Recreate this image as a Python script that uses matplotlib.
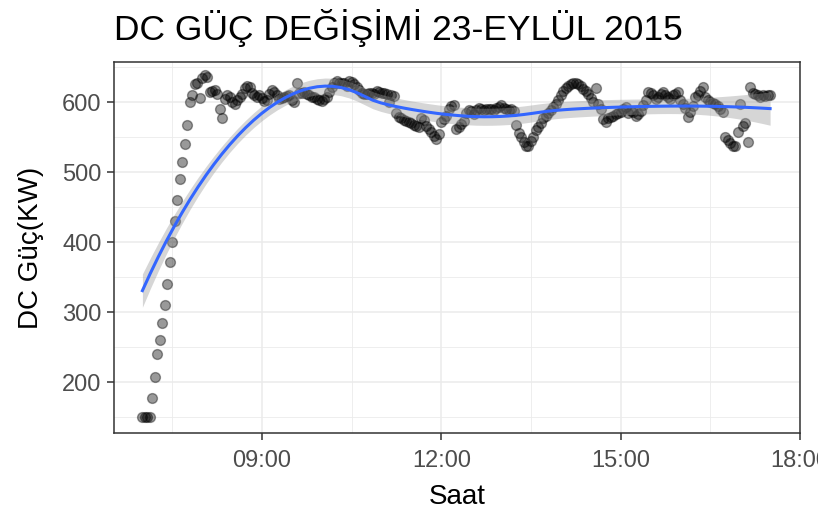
import numpy as np
import pandas as pd
import matplotlib
matplotlib.use("Agg")
import matplotlib.pyplot as plt
import matplotlib.dates as mdates

plt.rcParams["font.family"] = ["Liberation Sans", "DejaVu Sans"]

# 23 Eylül 2015, 07:00 - 17:30 arasi olcumler (2.5 dk aralik)
saat = pd.date_range("2015-09-23 07:00", "2015-09-23 17:30", freq="150s")

dc_guc = [
    150, 150, 150, 150, 178, 207, 240, 260, 285, 310,
    340, 372, 400, 430, 460, 490, 515, 540, 568, 600,
    610, 626, 628, 606, 635, 639, 636, 615, 616, 618,
    612, 591, 578, 605, 610, 607, 600, 598, 603, 608,
    612, 620, 623, 622, 613, 610, 608, 610, 606, 602,
    604, 612, 617, 615, 610, 605, 606, 608, 609, 610,
    604, 600, 627, 613, 614, 615, 612, 610, 608, 607,
    605, 603, 602, 605, 608, 615, 622, 628, 631, 627,
    627, 627, 624, 631, 629, 626, 622, 618, 614, 612,
    612, 614, 613, 612, 616, 615, 614, 613, 612, 600,
    610, 609, 585, 579, 577, 575, 573, 572, 570, 568,
    566, 565, 577, 575, 566, 562, 558, 552, 547, 555,
    572, 576, 580, 590, 595, 596, 562, 565, 569, 574,
    585, 589, 587, 584, 589, 592, 590, 589, 590, 591,
    590, 589, 592, 594, 596, 592, 590, 589, 590, 588,
    568, 556, 550, 544, 538, 537, 545, 551, 560, 565,
    571, 577, 581, 585, 589, 593, 598, 604, 610, 616,
    621, 624, 626, 628, 627, 626, 623, 619, 616, 612,
    606, 600, 621, 598, 590, 576, 572, 578, 579, 581,
    583, 585, 586, 590, 593, 585, 588, 586, 581, 584,
    588, 596, 604, 615, 613, 611, 605, 608, 612, 615,
    611, 608, 605, 610, 612, 615, 604, 598, 592, 579,
    586, 595, 608, 611, 616, 622, 608, 604, 601, 599,
    597, 595, 591, 586, 550, 546, 542, 538, 537, 557,
    598, 566, 570, 543, 622, 614, 612, 610, 608, 610,
    609, 610, 611,
]

x_ticks = ["2015-09-23 09:00", "2015-09-23 12:00", "2015-09-23 15:00", "2015-09-23 18:00"]
y_ticks = [200, 300, 400, 500, 600]


def loess(x, y, xs, span=0.75):
    # local quadratic fit, tricube weights (R loess defaults)
    n = len(x)
    q = int(np.floor(n * span))

    def row(x0):
        d = np.abs(x - x0)
        h = np.sort(d)[q - 1]
        w = np.clip(1 - (d / h) ** 3, 0, None) ** 3
        X = np.column_stack([np.ones(n), x - x0, (x - x0) ** 2])
        XtW = X.T * w
        return np.linalg.solve(XtW @ X, XtW)[0]

    L = np.array([row(v) for v in x])
    res = y - L @ y
    IL = np.eye(n) - L
    delta1 = np.trace(IL.T @ IL)
    sigma = np.sqrt(np.sum(res ** 2) / delta1)
    rows = np.array([row(v) for v in xs])
    fit = rows @ y
    se = sigma * np.sqrt(np.sum(rows ** 2, axis=1))
    return fit, se


t_num = mdates.date2num(saat)
hrs = (t_num - t_num[0]) * 24
y = np.array(dc_guc, dtype=float)
grid = np.linspace(hrs.min(), hrs.max(), 80)
fit, se = loess(hrs, y, grid)
grid_t = t_num[0] + grid / 24

fig = plt.figure(figsize=(8.18, 5.18), dpi=100)
ax = fig.add_axes([114 / 818, 1 - 433 / 518, 686 / 818, 371 / 518])

ax.scatter(saat, dc_guc, s=50, c="black", alpha=0.4, linewidths=1, zorder=2)
ax.fill_between(grid_t, fit - 1.97 * se, fit + 1.97 * se, color="#999999", alpha=0.4,
                linewidth=0, zorder=3)
ax.plot(grid_t, fit, color="#3366FF", lw=2.2, zorder=4)

x0 = mdates.date2num(pd.Timestamp("2015-09-23 07:00"))
ax.set_xlim(x0 - 0.475 / 24, x0 + 11.0 / 24)
ax.set_ylim(127.6, 657.6)

ax.set_xticks(mdates.date2num(pd.to_datetime(x_ticks)))
ax.xaxis.set_major_formatter(mdates.DateFormatter("%H:%M"))
ax.set_xticks(mdates.date2num(pd.to_datetime(x_ticks)) - 1.5 / 24, minor=True)
ax.set_yticks(y_ticks)
ax.set_yticks([150, 250, 350, 450, 550, 650], minor=True)

ax.grid(which="major", color="#EBEBEB", lw=1.1, zorder=0)
ax.grid(which="minor", color="#EBEBEB", lw=0.6, zorder=0)
ax.set_axisbelow(True)
for s in ax.spines.values():
    s.set_color("#333333")
    s.set_linewidth(1.1)

ax.tick_params(which="major", length=5, width=1.1, color="#333333",
               labelsize=17, labelcolor="#4D4D4D")
ax.tick_params(axis="x", which="major", pad=7)
ax.tick_params(axis="y", which="major", pad=4)
ax.tick_params(which="minor", length=0)

ax.set_xlabel("Saat", fontsize=20, labelpad=9)
ax.set_ylabel("DC Güç(KW)", fontsize=20, labelpad=13)
ax.set_title("DC GÜÇ DEĞİŞİMİ 23-EYLÜL 2015", loc="left", fontsize=25.5, pad=16)

fig.savefig("out.png", dpi=100)
